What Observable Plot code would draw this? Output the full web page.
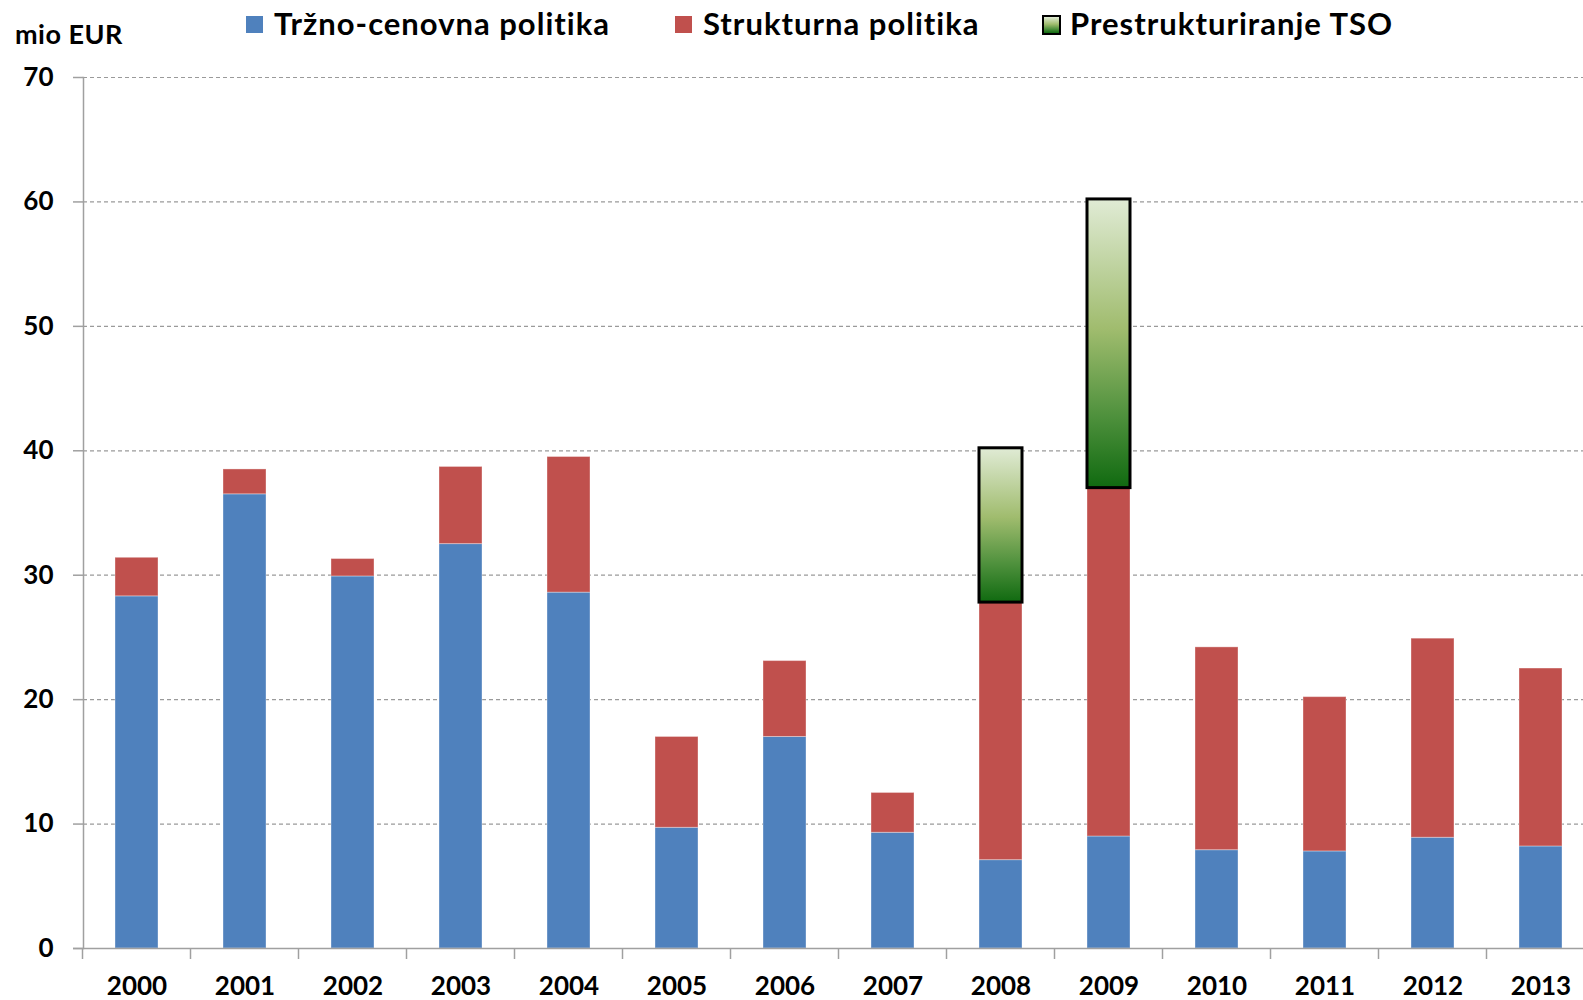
<!DOCTYPE html>
<html>
<head>
<meta charset="utf-8">
<script src="https://cdn.jsdelivr.net/npm/d3@7"></script>
<script src="https://cdn.jsdelivr.net/npm/@observablehq/plot@0.6"></script>
<style>
  html, body { margin: 0; padding: 0; background: #fff; }
  #wrap { position: relative; width: 1583px; height: 1000px; overflow: hidden; font-family: Lato, "Noto Sans", sans-serif; }
  .lg { position: absolute; font-weight: 700; color: #000; white-space: nowrap; line-height: 1; }
  .sw { position: absolute; }
</style>
</head>
<body>
<div id="wrap"></div>
<script>
// ---- data ----
const years = ["2000","2001","2002","2003","2004","2005","2006","2007","2008","2009","2010","2011","2012","2013"];
const trzno = [28.3, 36.5, 29.9, 32.5, 28.6, 9.7, 17.0, 9.3, 7.1, 9.0, 7.9, 7.8, 8.9, 8.2];
const strukturna = [3.1, 2.0, 1.4, 6.2, 10.9, 7.3, 6.1, 3.2, 20.7, 28.0, 16.3, 12.4, 16.0, 14.3];
const tso = [0, 0, 0, 0, 0, 0, 0, 0, 12.4, 23.2, 0, 0, 0, 0];
const seriesNames = ["Tržno-cenovna politika", "Strukturna politika", "Prestrukturiranje TSO"];
const seriesColors = ["#4F81BD", "#C0504D"];
const yTicks = [0, 10, 20, 30, 40, 50, 60, 70];
const unitLabel = "mio EUR";

// ---- tables ----
const stacked = [];
years.forEach((y, i) => {
  stacked.push({year: y, series: seriesNames[0], value: trzno[i]});
  stacked.push({year: y, series: seriesNames[1], value: strukturna[i]});
});
const tsoRows = years.map((y, i) => ({year: y, base: trzno[i] + strukturna[i], top: trzno[i] + strukturna[i] + tso[i], v: tso[i]}))
  .filter(d => d.v > 0);

const defs = () => {
  const g = d3.create("svg:defs");
  const lg = g.append("linearGradient").attr("id", "tsoGrad").attr("x1", 0).attr("y1", 0).attr("x2", 0).attr("y2", 1);
  [[0, "#e0ebd5"], [0.45, "#a0bc6e"], [0.75, "#4f913d"], [1, "#106a10"]].forEach(([o, c]) =>
    lg.append("stop").attr("offset", o).attr("stop-color", c));
  return g.node();
};

// category boundary ticks, from the band scale
const boundaryTicks = (index, scales, values, dims) => {
  const x = scales.x;
  const gap = (x.step() - x.bandwidth()) / 2;
  const g = d3.create("svg:g").attr("stroke", "#a0a0a0").attr("stroke-width", 1.5);
  const xs = years.map(y => x(y) - gap);
  xs.push(x(years[years.length - 1]) + x.bandwidth() + gap);
  const y0 = dims.height - dims.marginBottom;
  xs.forEach(px => g.append("line").attr("x1", px).attr("x2", px).attr("y1", y0).attr("y2", y0 + 11));
  return g.node();
};

const chart = Plot.plot({
  width: 1583,
  height: 1000,
  marginTop: 77,
  marginBottom: 52,
  marginLeft: 83,
  marginRight: 0,
  style: {fontFamily: "Lato, 'Noto Sans', sans-serif", background: "#fff", overflow: "visible"},
  x: {domain: years, range: [83, 1595], paddingInner: 0.6, paddingOuter: 0.3, axis: null, label: null},
  y: {domain: [0, 70], axis: null, label: null},
  color: {domain: seriesNames.slice(0, 2), range: seriesColors},
  marks: [
    defs,
    Plot.ruleY(yTicks.filter(d => d > 0), {stroke: "#9a9a9a", strokeWidth: 1.2, strokeDasharray: "4,3"}),
    Plot.barY(stacked, Plot.stackY({x: "year", y: "value", fill: "series", order: seriesNames.slice(0, 2), stroke: "#fff", strokeOpacity: 0.35, strokeWidth: 1})),
    Plot.barY(tsoRows, {x: "year", y1: "base", y2: "top", fill: "url(#tsoGrad)", stroke: "#000", strokeWidth: 3}),
    Plot.ruleY([0], {stroke: "#a0a0a0", strokeWidth: 1.5, insetLeft: -10}),
    Plot.frame({anchor: "left", stroke: "#a0a0a0", strokeWidth: 1.5}),
    Plot.axisY({ticks: yTicks, tickSize: 10, tickPadding: 20, fontSize: 26, fontWeight: "bold", stroke: "#a0a0a0", strokeWidth: 1.5, tickFormat: d => String(d), fill: "#000", label: null}),
    Plot.axisX({tickSize: 0, tickPadding: 28, fontSize: 26, fontWeight: "bold", fill: "#000", label: null}),
    boundaryTicks
  ]
});

const wrap = document.getElementById("wrap");
wrap.appendChild(chart);

// ---- legend & unit label (HTML overlay) ----
function addText(txt, left, top, size, ls) {
  const s = document.createElement("div");
  s.className = "lg"; s.textContent = txt;
  s.style.left = left + "px"; s.style.top = top + "px"; s.style.fontSize = size + "px";
  s.style.letterSpacing = ls + "px";
  wrap.appendChild(s);
  return s;
}
function addSwatch(left, top, w, h, bg, border) {
  const s = document.createElement("div");
  s.className = "sw";
  s.style.left = left + "px"; s.style.top = top + "px";
  s.style.width = w + "px"; s.style.height = h + "px";
  s.style.background = bg;
  if (border) { s.style.border = border; s.style.boxSizing = "border-box"; }
  wrap.appendChild(s);
}
addText(unitLabel, 15, 20, 27, 0.5);
addSwatch(246, 16, 17, 17, seriesColors[0]);
addText(seriesNames[0], 274, 8, 31, 1);
addSwatch(675, 16, 17, 17, seriesColors[1]);
addText(seriesNames[1], 703, 8, 31, 1);
addSwatch(1042, 15, 19, 20, "linear-gradient(#e0ebd5, #a0bc6e 45%, #4f913d 75%, #106a10)", "2.5px solid #000");
addText(seriesNames[2], 1070, 8, 31, 1);
</script>
</body>
</html>
